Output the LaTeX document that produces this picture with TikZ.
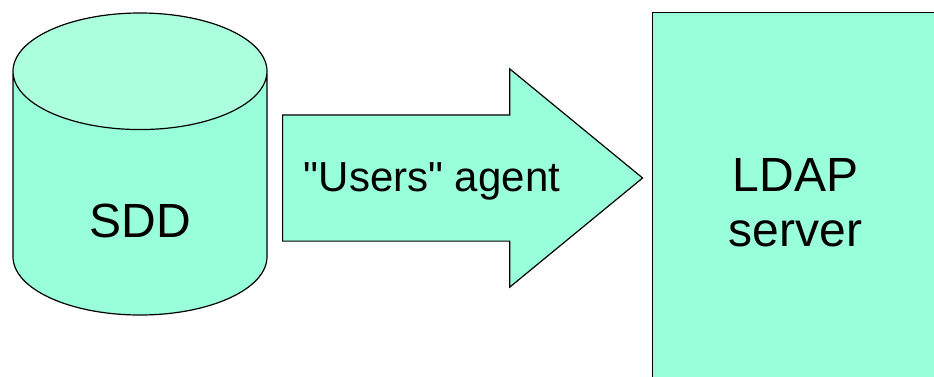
\documentclass[tikz,border=0pt]{standalone}
\usepackage{fontspec}
\setmainfont{Liberation Sans}[Ligatures=TeXOff]
\usetikzlibrary{shapes.geometric,shapes.arrows,positioning}
\definecolor{aqua}{RGB}{153,255,218}
\definecolor{aquatop}{RGB}{172,255,221}

\begin{document}
\begin{tikzpicture}[x=1pt,y=-1pt,
    store/.style={cylinder, shape border rotate=90, draw, line width=1.2pt,
        cylinder uses custom fill, cylinder body fill=aqua, cylinder end fill=aquatop,
        minimum width=254pt, minimum height=302pt, aspect=1.15, inner sep=0pt,
        text height=88pt, text depth=0pt, font=\fontsize{48}{55}\selectfont},
    flow/.style={single arrow, draw, fill=aqua, line width=1.2pt,
        single arrow head extend=46pt, single arrow tip angle=78.8,
        single arrow head indent=0pt, minimum height=360pt, minimum width=217pt,
        inner xsep=0pt, inner ysep=62.5pt},
    server/.style={draw, fill=aqua, line width=1.2pt, align=center,
        minimum width=286pt, minimum height=380pt, inner sep=0pt,
        font=\fontsize{48}{55}\selectfont},
    lbl/.style={inner sep=0pt, font=\fontsize{42}{50}\selectfont}]
    \clip (0,0) rectangle (934,376);

    \node[store, anchor=shape center] (sdd) at (140,164) {SDD};

    \node[flow, anchor=tail] (agentarrow) at (282,178) {};
    \node[lbl] (agent) at (432,181) {"Users" agent};

    \node[server, anchor=north west] (ldap) at (652,12) {LDAP\\server};
\end{tikzpicture}
\end{document}
